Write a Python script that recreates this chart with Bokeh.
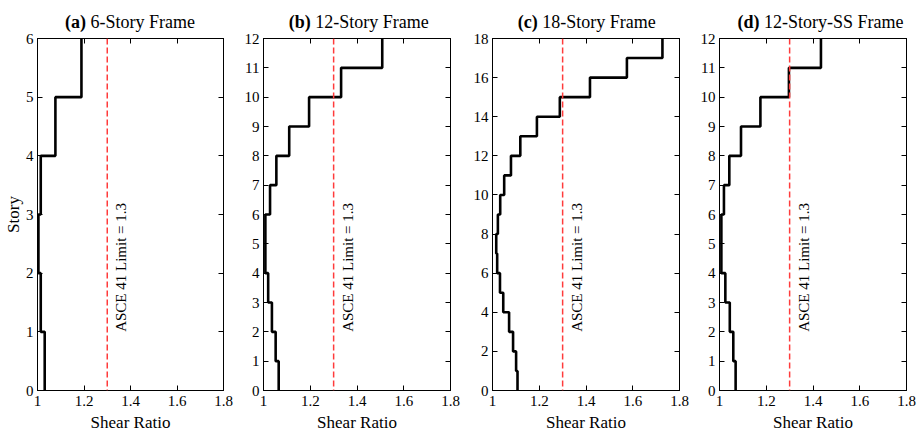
import numpy as np
from bokeh.plotting import figure
from bokeh.layouts import row, column
from bokeh.models import Range1d, FixedTicker, Span, Label, LinearAxis
from bokeh.embed import file_html
from bokeh.resources import INLINE

# ---- data ----
panel_letters = ["(a)", "(b)", "(c)", "(d)"]
panel_names = ["6-Story Frame", "12-Story Frame", "18-Story Frame", "12-Story-SS Frame"]

shear_a = [1.031, 1.014, 1.004, 1.014, 1.077, 1.189]
shear_b = [1.065, 1.052, 1.036, 1.020, 1.008, 1.008, 1.028, 1.055, 1.110, 1.195, 1.332, 1.508]
shear_c = [1.107, 1.101, 1.088, 1.071, 1.046, 1.032, 1.020, 1.016, 1.023, 1.033, 1.050,
           1.079, 1.119, 1.190, 1.288, 1.417, 1.575, 1.727]
shear_d = [1.069, 1.059, 1.044, 1.025, 1.008, 1.008, 1.019, 1.042, 1.092, 1.175, 1.297, 1.434]

y_tick_step = [1, 1, 2, 1]
x_ticks = [1, 1.2, 1.4, 1.6, 1.8]
x_tick_labels = ["1", "1.2", "1.4", "1.6", "1.8"]
asce_limit = 1.3
limit_text = "ASCE 41 Limit = 1.3"
x_label = "Shear Ratio"
y_label = "Story"

series = [shear_a, shear_b, shear_c, shear_d]

# ---- layout / style ----
FONT = "Liberation Serif"
FRAME_W = 187
TITLE_H = 32
TOP_GAP = 6
borders_left = [36, 28, 30, 28]
borders_right = [12, 12, 12, 13]
title_split = [-44.6, -46.3, -48.3, -53.6]
SPACE_W = 4.5

cols = []
for i, vals in enumerate(series):
    n = len(vals)
    w = borders_left[i] + FRAME_W + borders_right[i]
    xr = Range1d(1, 1.8)

    # ---- title strip ----
    t = figure(width=w, height=TITLE_H, output_backend="svg", toolbar_location=None,
               x_range=xr, y_range=Range1d(0, TITLE_H), x_axis_type=None, y_axis_type=None,
               min_border_left=borders_left[i], min_border_right=borders_right[i],
               min_border_top=0, min_border_bottom=0)
    t.grid.visible = False
    t.outline_line_color = None
    t.background_fill_color = "white"
    t.border_fill_color = "white"
    t.add_layout(Label(x=1.4, y=11, x_offset=title_split[i], text=panel_letters[i],
                       text_align="right", text_baseline="alphabetic",
                       text_font=FONT, text_font_size="18px", text_font_style="bold",
                       text_color="black"))
    t.add_layout(Label(x=1.4, y=11, x_offset=title_split[i] + SPACE_W, text=panel_names[i],
                       text_align="left", text_baseline="alphabetic",
                       text_font=FONT, text_font_size="18px", text_color="black"))

    # ---- main plot ----
    p = figure(width=w, height=434 - TITLE_H, output_backend="svg", toolbar_location=None,
               x_range=xr, y_range=Range1d(0, n),
               min_border_left=borders_left[i], min_border_right=borders_right[i],
               min_border_top=TOP_GAP, min_border_bottom=44)
    p.background_fill_color = "white"
    p.border_fill_color = "white"
    p.grid.visible = False
    p.outline_line_color = "black"
    p.outline_line_width = 1

    bottom = p.below[0]
    left = p.left[0]

    v = np.asarray(vals, dtype=float)
    xs = np.repeat(v, 2)
    ys = np.repeat(np.arange(n + 1), 2)[1:-1]
    p.line(xs, ys, line_color="black", line_width=2.6)

    p.add_layout(Span(location=asce_limit, dimension="height", line_color="#ff3b3b",
                      line_dash="6 3", line_width=1.5))

    p.add_layout(Label(x=asce_limit, y=n / 6.0, text=limit_text, angle=np.pi / 2,
                       text_align="left", text_baseline="top", x_offset=6,
                       text_font=FONT, text_font_size="15px", text_color="black"))

    yt = list(range(0, n + 1, y_tick_step[i]))
    overrides = {tk: s for tk, s in zip(x_ticks, x_tick_labels)}

    bottom.ticker = FixedTicker(ticks=x_ticks)
    bottom.major_label_overrides = overrides
    bottom.axis_label = x_label
    left.ticker = FixedTicker(ticks=yt)
    left.axis_label = y_label if i == 0 else None

    top = LinearAxis(ticker=FixedTicker(ticks=x_ticks), major_label_text_font_size="0px",
                     major_label_standoff=0)
    right = LinearAxis(ticker=FixedTicker(ticks=yt), major_label_text_font_size="0px",
                       major_label_standoff=0)
    p.add_layout(top, "above")
    p.add_layout(right, "right")

    for ax in [bottom, left, top, right]:
        ax.major_tick_in = 5
        ax.major_tick_out = 0
        ax.minor_tick_line_color = None
        ax.axis_line_color = "black"
        ax.major_tick_line_color = "black"
        ax.major_label_text_font = FONT
        ax.major_label_text_color = "black"
        ax.axis_label_text_font = FONT
        ax.axis_label_text_font_style = "normal"
        ax.axis_label_text_color = "black"
    for ax in [bottom, left]:
        ax.major_label_text_font_size = "15px"
        ax.axis_label_text_font_size = "17px"
    bottom.major_label_standoff = 5
    bottom.axis_label_standoff = 4
    left.major_label_standoff = 4
    left.axis_label_standoff = 0
    cols.append(column(t, p, spacing=0))

layout = row(*cols, spacing=0)
open("out.html", "w").write(file_html(layout, INLINE))
